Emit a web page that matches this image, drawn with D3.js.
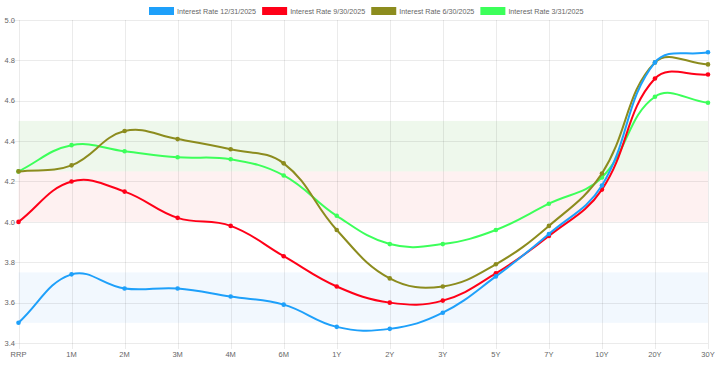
<!DOCTYPE html>
<html><head><meta charset="utf-8">
<script src="https://cdn.jsdelivr.net/npm/d3@7"></script>
<style>html,body{margin:0;padding:0;background:#fff;}svg{display:block;font-family:"Liberation Sans",Arial,sans-serif;}</style>
</head><body>
<svg id="c" width="720" height="365"></svg>
<script>
const categories = ["RRP","1M","2M","3M","4M","6M","1Y","2Y","3Y","5Y","7Y","10Y","20Y","30Y"];
const seriesNames = ["Interest Rate 12/31/2025","Interest Rate 9/30/2025","Interest Rate 6/30/2025","Interest Rate 3/31/2025"];
const rates1231 = [3.50,3.74,3.67,3.67,3.63,3.59,3.48,3.47,3.55,3.73,3.94,4.18,4.79,4.84];
const rates0930 = [4.00,4.20,4.15,4.02,3.98,3.83,3.68,3.60,3.61,3.745,3.93,4.16,4.71,4.73];
const rates0630 = [4.25,4.28,4.45,4.41,4.36,4.29,3.96,3.72,3.68,3.79,3.98,4.24,4.79,4.78];
const rates0331 = [4.25,4.38,4.35,4.32,4.31,4.23,4.03,3.89,3.89,3.96,4.09,4.22,4.62,4.59];
const seriesColors = ["#1ea0fa","#ff0018","#8c8c1e","#3cff5a"];
const yTicks = [3.4,3.6,3.8,4.0,4.2,4.4,4.6,4.8,5.0];
const bands = [
  {lo:4.25, hi:4.5, fill:"rgba(60,170,40,0.085)"},
  {lo:4.0, hi:4.25, fill:"rgba(240,60,60,0.07)"},
  {lo:3.5, hi:3.75, fill:"rgba(40,130,240,0.06)"}
];
const allSeries = [rates1231, rates0930, rates0630, rates0331];

const svg = d3.select("#c");
const L = 18.5, R = 708, T = 20, B = 343;
const x = d3.scalePoint().domain(categories).range([L, R]);
const y = d3.scaleLinear().domain([3.4, 5.0]).range([B, T]);

// bands
svg.append("g").selectAll("rect").data(bands).join("rect")
  .attr("x", L).attr("width", R - L)
  .attr("y", d => y(d.hi)).attr("height", d => y(d.lo) - y(d.hi))
  .attr("fill", d => d.fill);

// grid
const grid = svg.append("g").attr("stroke", "rgba(0,0,0,0.08)").attr("stroke-width", 1);
grid.selectAll("line.h").data(yTicks).join("line").attr("class","h")
  .attr("x1", L - 6).attr("x2", R)
  .attr("y1", d => Math.round(y(d)) + 0.5).attr("y2", d => Math.round(y(d)) + 0.5);
grid.selectAll("line.v").data(categories).join("line").attr("class","v")
  .attr("x1", d => Math.round(x(d)) + 0.5).attr("x2", d => Math.round(x(d)) + 0.5)
  .attr("y1", T).attr("y2", B + 6);

// axes labels
svg.append("g").selectAll("text").data(yTicks).join("text")
  .attr("x", 15).attr("y", d => y(d)).attr("dy", "0.35em")
  .attr("text-anchor", "end").attr("font-size", 7.5).attr("fill", "#666")
  .text(d => d.toFixed(1));
svg.append("g").selectAll("text").data(categories).join("text")
  .attr("x", d => x(d)).attr("y", 354).attr("dy", "0.35em")
  .attr("text-anchor", "middle").attr("font-size", 7.5).attr("fill", "#666")
  .text(d => d);

// Chart.js-like spline (tension 0.4)
function splinePath(pts, t) {
  const p = d3.path();
  const cps = pts.map((cur, i) => {
    const prev = pts[i - 1] || cur, next = pts[i + 1] || cur;
    const d01 = Math.hypot(cur[0] - prev[0], cur[1] - prev[1]);
    const d12 = Math.hypot(next[0] - cur[0], next[1] - cur[1]);
    let s01 = d01 / (d01 + d12), s12 = d12 / (d01 + d12);
    if (!isFinite(s01)) s01 = 0; if (!isFinite(s12)) s12 = 0;
    const fa = t * s01, fb = t * s12;
    return {
      p: [cur[0] - fa * (next[0] - prev[0]), cur[1] - fa * (next[1] - prev[1])],
      n: [cur[0] + fb * (next[0] - prev[0]), cur[1] + fb * (next[1] - prev[1])]
    };
  });
  p.moveTo(pts[0][0], pts[0][1]);
  for (let i = 1; i < pts.length; i++) {
    const a = cps[i - 1].n, b = cps[i].p;
    p.bezierCurveTo(a[0], a[1], b[0], b[1], pts[i][0], pts[i][1]);
  }
  return p.toString();
}

// draw series, last first so first is on top
const order = [3, 2, 1, 0];
order.forEach(si => {
  const vals = allSeries[si];
  const pts = vals.map((v, i) => [x(categories[i]), y(v)]);
  const g = svg.append("g");
  g.append("path").attr("d", splinePath(pts, 0.4))
    .attr("fill", "none").attr("stroke", seriesColors[si]).attr("stroke-width", 2);
  g.selectAll("circle").data(vals).join("circle")
    .attr("cx", (d, i) => x(categories[i])).attr("cy", d => y(d))
    .attr("r", 2.3).attr("fill", seriesColors[si]);
});

// legend
const legend = svg.append("g");
let lx = 149;
seriesNames.forEach((name, i) => {
  const g = legend.append("g").attr("transform", `translate(${lx},0)`);
  g.append("rect").attr("x", 0).attr("y", 7).attr("width", 25).attr("height", 8)
    .attr("fill", seriesColors[i]);
  const t = g.append("text").attr("x", 28).attr("y", 11).attr("dy", "0.35em")
    .attr("font-size", 7.2).attr("fill", "#666").text(name);
  const w = t.node().getComputedTextLength();
  lx += 28 + w + 6;
});
</script>
</body></html>
